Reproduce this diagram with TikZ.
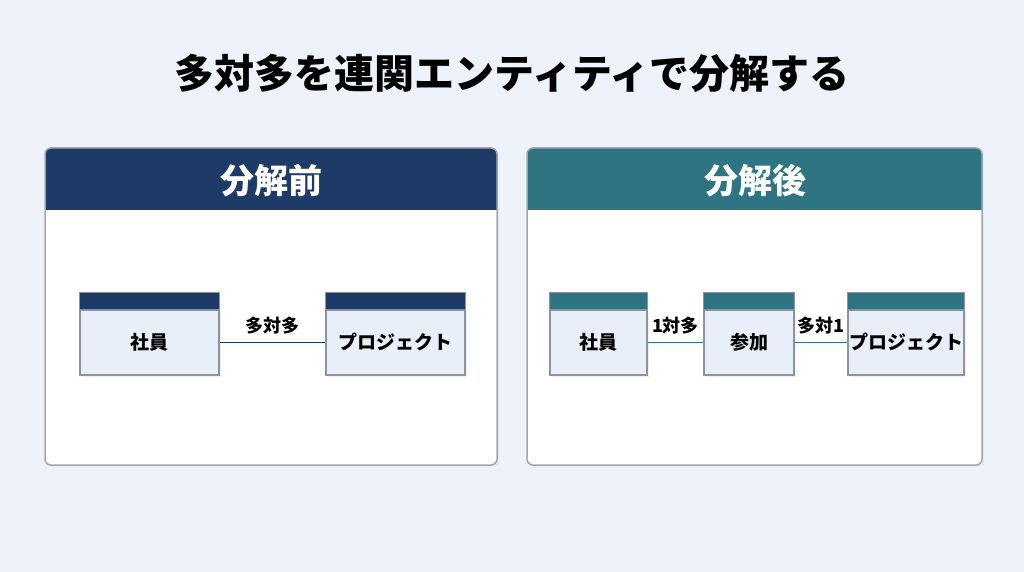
\documentclass[tikz,border=0pt]{standalone}
\usepackage{fontspec}
\newfontfamily\jp{Noto Sans CJK JP}
\usetikzlibrary{positioning}
\definecolor{bgcol}{HTML}{EEF2FA}
\definecolor{navy}{HTML}{1E3A66}
\definecolor{teal}{HTML}{2E7483}
\definecolor{entfill}{HTML}{E9EFF8}
\definecolor{entline}{HTML}{8C949E}
\definecolor{panline}{HTML}{A2A8B0}
\tikzset{
    entity/.style = {draw = entline, line width = 1.2pt, fill = entfill, minimum height = 65pt, inner sep = 0pt,
        preaction = {fill = black, opacity = 0.06, transform canvas = {shift = {(2pt,-2pt)}}},
        font = \jp\bfseries\fontsize{19}{22}\selectfont},
    rel/.style = {line width = 1.5pt},
    card/.style = {font = \jp\bfseries\fontsize{18}{21}\selectfont, inner sep = 0pt}
}
\begin{document}
\begin{tikzpicture}[x = 1pt, y = -1pt]
                \fill[bgcol] (0,0) rectangle (1024,572);
                \useasboundingbox (0,0) rectangle (1024,572);
                \node (title) at (512,73) {\jp\bfseries\fontsize{40}{44}\selectfont 多対多を連関エンティティで分解する};
                % panels
                \begin{scope}[line width = 1.5pt]
                    \fill[black, opacity = 0.04, rounded corners = 6pt] (47,150) rectangle (499,467);
                    \fill[black, opacity = 0.04, rounded corners = 6pt] (529,150) rectangle (984,467);
                    \begin{scope}
                        \clip[rounded corners = 6pt] (45,148) rectangle (497,465);
                        \fill[white] (45,148) rectangle (497,465);
                        \fill[navy] (45,148) rectangle (497,210);
                    \end{scope}
                    \begin{scope}
                        \clip[rounded corners = 6pt] (527,148) rectangle (982,465);
                        \fill[white] (527,148) rectangle (982,465);
                        \fill[teal] (527,148) rectangle (982,210);
                    \end{scope}
                    \draw[panline, rounded corners = 6pt] (45,148) rectangle (497,465);
                    \draw[panline, rounded corners = 6pt] (527,148) rectangle (982,465);
                \end{scope}
                \begin{scope}[every node/.append style = {font = \jp\bfseries\fontsize{34}{38}\selectfont, text = white}]
                    \node (before) at (271,181) {分解前};
                    \node (after) at (755,181) {分解後};
                \end{scope}
                % before
                \node[entity, minimum width = 139pt] (emp1) at (149.5,342.5) {社員};
                \node[entity, minimum width = 139pt] (proj1) at (395.5,342.5) {プロジェクト};
                \draw[navy, rel] (emp1) -- (proj1) node[midway, card, above = 8pt, text = black] {多対多};
                % after
                \node[entity, minimum width = 97pt] (emp2) at (598.5,342.5) {社員};
                \node[entity, minimum width = 90pt] (join) at (749,342.5) {参加};
                \node[entity, minimum width = 116pt] (proj2) at (906,342.5) {プロジェクト};
                \draw[teal, rel] (emp2) -- (join) node[midway, card, above = 8pt, text = black] {1対多};
                \draw[teal, rel] (join) -- (proj2) node[midway, card, above = 8pt, text = black] {多対1};
                % header strips
                \foreach \e/\c in {emp1/navy, proj1/navy, emp2/teal, join/teal, proj2/teal}{
                    \draw[entline, line width = 1.2pt, fill = \c] ([yshift = 17pt]\e.north west) rectangle (\e.north east);
                }
            \end{tikzpicture}
\end{document}
